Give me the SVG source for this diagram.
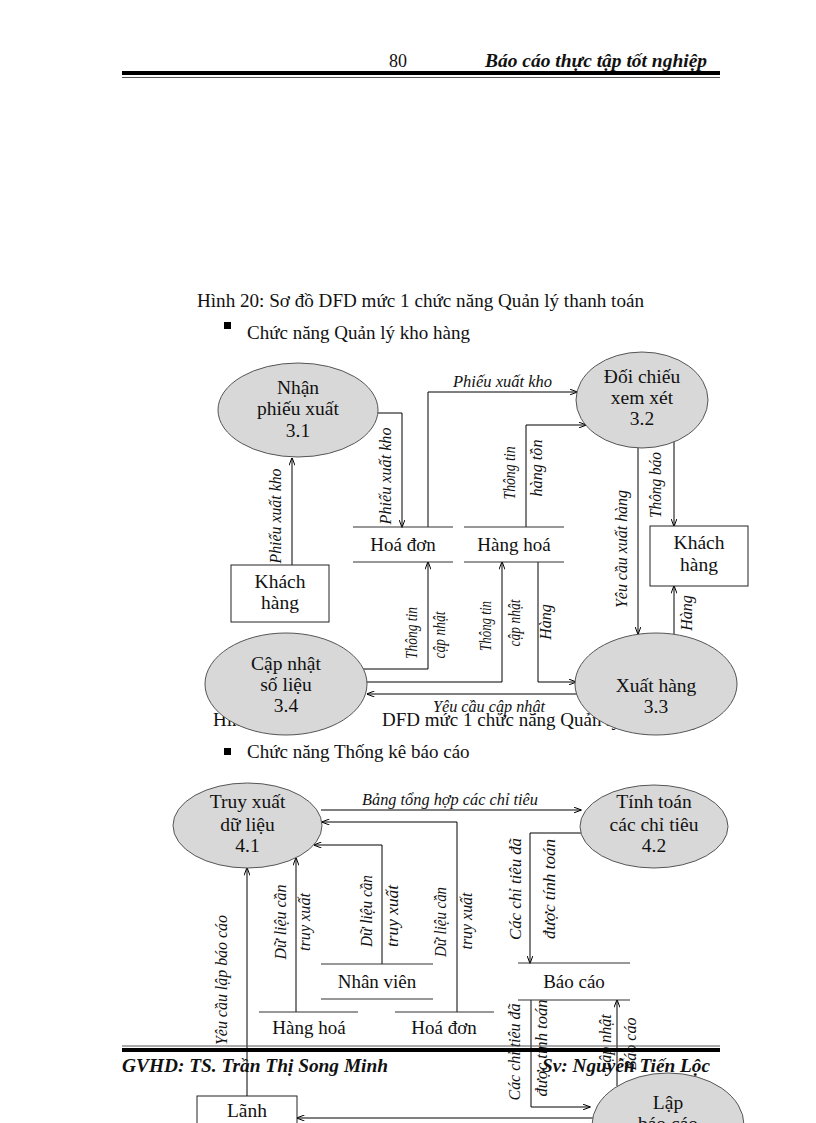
<svg xmlns="http://www.w3.org/2000/svg" width="816" height="1123" viewBox="0 0 816 1123">
<defs>
<marker id="arr" markerWidth="8" markerHeight="6" refX="7.5" refY="3" orient="auto" markerUnits="userSpaceOnUse">
<path d="M0,0 L8,3 L0,6" fill="none" stroke="#000" stroke-width="1"/>
</marker>
</defs>
<style>
text{font-family:"Liberation Serif","Times New Roman",serif;fill:#111}
.hdr{font-size:18px;font-weight:bold;font-style:italic}
.cap{font-size:19px}
.node{font-size:19.5px;text-anchor:middle}
.store{font-size:19px;text-anchor:middle}
.lbl{font-size:16px;font-style:italic}
.vl{font-size:16px;font-style:italic;text-anchor:middle}
.proc{fill:#d8d8d8;stroke:#555;stroke-width:1}
.ext{fill:#fff;stroke:#222;stroke-width:1}
.st{stroke:#333;stroke-width:1.2;fill:none}
.fl{stroke:#000;stroke-width:1;fill:none}
.fa{stroke:#000;stroke-width:1;fill:none;marker-end:url(#arr)}
</style>
<rect width="816" height="1123" fill="#fff"/>

<g id="header">
<text x="389" y="67" style="font-size:18px">80</text>
<text x="485" y="67" class="hdr" textLength="222" lengthAdjust="spacingAndGlyphs">Báo cáo thực tập tốt nghiệp</text>
<rect x="122" y="71" width="598" height="4" fill="#000"/>
<line x1="122" y1="77.5" x2="720" y2="77.5" stroke="#555" stroke-width="1"/>
</g>

<g id="captions">
<text x="197" y="307" class="cap" textLength="447" lengthAdjust="spacingAndGlyphs">Hình 20: Sơ đồ DFD mức 1 chức năng Quản lý thanh toán</text>
<rect x="224" y="322" width="7" height="7" fill="#000"/>
<text x="247" y="339" class="cap">Chức năng Quản lý kho hàng</text>
<text x="213" y="726" class="cap">Hình 21: Sơ đồ</text>
<text x="382" y="726" class="cap">DFD mức 1 chức năng Quản lý kho hàng</text>
<rect x="224" y="748" width="7" height="7" fill="#000"/>
<text x="247" y="758" class="cap">Chức năng Thống kê báo cáo</text>
</g>

<g id="connectors">
<polyline class="fa" points="378,413 402,413 402,527"/>
<polyline class="fa" points="428,527 428,392 577,392"/>
<polyline class="fa" points="526,527 526,425 586,425"/>
<line class="fa" x1="292" y1="565" x2="292" y2="458"/>
<line class="fa" x1="638" y1="448" x2="638" y2="634"/>
<line class="fa" x1="674" y1="442" x2="674" y2="526"/>
<line class="fa" x1="674" y1="634" x2="674" y2="586"/>
<polyline class="fa" points="363,669 428,669 428,562"/>
<polyline class="fa" points="366,682 502,682 502,562"/>
<polyline class="fa" points="538,562 538,682 576,682"/>
<line class="fa" x1="577" y1="694" x2="367" y2="694"/>
<line class="fa" x1="321" y1="810" x2="581" y2="810"/>
<polyline class="fa" points="457,1012 457,822 322,822"/>
<polyline class="fa" points="382,964 382,845 314,845"/>
<line class="fa" x1="296" y1="1012" x2="296" y2="858"/>
<line class="fa" x1="247" y1="1096" x2="247" y2="868"/>
<polyline class="fa" points="581,833 530,833 530,963"/>
<polyline class="fa" points="531,1000 531,1107 590,1107"/>
<line class="fa" x1="617" y1="1086" x2="617" y2="1000"/>
<line class="fa" x1="594" y1="1118" x2="297" y2="1118"/>
</g>

<g id="flow-labels">
<text x="453" y="387" class="lbl" textLength="99" lengthAdjust="spacingAndGlyphs">Phiếu xuất kho</text>
<text class="vl" transform="translate(391,476) rotate(-90)" textLength="97" lengthAdjust="spacingAndGlyphs">Phiếu xuất kho</text>
<text class="vl" transform="translate(281,516) rotate(-90)" textLength="95" lengthAdjust="spacingAndGlyphs">Phiếu xuất kho</text>
<text class="vl" transform="translate(515,473) rotate(-90)" textLength="53" lengthAdjust="spacingAndGlyphs">Thông tin</text>
<text class="vl" transform="translate(542,468) rotate(-90)" textLength="57" lengthAdjust="spacingAndGlyphs">hàng tồn</text>
<text class="vl" transform="translate(627,549) rotate(-90)" textLength="118" lengthAdjust="spacingAndGlyphs">Yêu cầu xuất hàng</text>
<text class="vl" transform="translate(661,485) rotate(-90)" textLength="66" lengthAdjust="spacingAndGlyphs">Thông báo</text>
<text class="vl" transform="translate(692,613) rotate(-90)">Hàng</text>
<text class="vl" transform="translate(417,633) rotate(-90)" textLength="52" lengthAdjust="spacingAndGlyphs">Thông tin</text>
<text class="vl" transform="translate(445,635) rotate(-90)" textLength="47" lengthAdjust="spacingAndGlyphs">cập nhật</text>
<text class="vl" transform="translate(491,626) rotate(-90)" textLength="50" lengthAdjust="spacingAndGlyphs">Thông tin</text>
<text class="vl" transform="translate(520,623) rotate(-90)" textLength="47" lengthAdjust="spacingAndGlyphs">cập nhật</text>
<text class="vl" transform="translate(551,622) rotate(-90)">Hàng</text>
<text x="433" y="712" class="lbl" textLength="112" lengthAdjust="spacingAndGlyphs">Yêu cầu cập nhật</text>

<text x="362" y="805" class="lbl" textLength="176" lengthAdjust="spacingAndGlyphs">Bảng tổng hợp các chỉ tiêu</text>
<text class="vl" transform="translate(286,922) rotate(-90)" textLength="75" lengthAdjust="spacingAndGlyphs">Dữ liệu cần</text>
<text class="vl" transform="translate(310,922) rotate(-90)" textLength="58" lengthAdjust="spacingAndGlyphs">truy xuất</text>
<text class="vl" transform="translate(372,911) rotate(-90)" textLength="72" lengthAdjust="spacingAndGlyphs">Dữ liệu cần</text>
<text class="vl" transform="translate(398,916) rotate(-90)" textLength="62" lengthAdjust="spacingAndGlyphs">truy xuất</text>
<text class="vl" transform="translate(446,922) rotate(-90)" textLength="70" lengthAdjust="spacingAndGlyphs">Dữ liệu cần</text>
<text class="vl" transform="translate(472,921) rotate(-90)" textLength="57" lengthAdjust="spacingAndGlyphs">truy xuất</text>
<text class="vl" transform="translate(227,980) rotate(-90)" textLength="130" lengthAdjust="spacingAndGlyphs">Yêu cầu lập báo cáo</text>
<text class="vl" transform="translate(521,889) rotate(-90)" textLength="102" lengthAdjust="spacingAndGlyphs">Các chỉ tiêu đã</text>
<text class="vl" transform="translate(555,889) rotate(-90)" textLength="100" lengthAdjust="spacingAndGlyphs">được tính toán</text>
<text class="vl" transform="translate(520,1052) rotate(-90)" textLength="97" lengthAdjust="spacingAndGlyphs">Các chỉ tiêu đã</text>
<text class="vl" transform="translate(547,1048) rotate(-90)" textLength="97" lengthAdjust="spacingAndGlyphs">được tính toán</text>
<text class="vl" transform="translate(611,1042) rotate(-90)">cập nhật</text>
<text class="vl" transform="translate(636,1044) rotate(-90)">Báo cáo</text>
</g>

<g id="p31"><ellipse class="proc" cx="298" cy="410" rx="80" ry="47"/>
<text class="node" x="298" y="394">Nhận</text><text class="node" x="298" y="415">phiếu xuất</text><text class="node" x="298" y="437">3.1</text></g>
<g id="p32"><ellipse class="proc" cx="642" cy="400" rx="66" ry="48"/>
<text class="node" x="642" y="383">Đối chiếu</text><text class="node" x="642" y="404">xem xét</text><text class="node" x="642" y="425">3.2</text></g>
<g id="p33"><ellipse class="proc" cx="656" cy="684" rx="81" ry="51"/>
<text class="node" x="656" y="692">Xuất hàng</text><text class="node" x="656" y="713">3.3</text></g>
<g id="p34"><ellipse class="proc" cx="286" cy="684" rx="81" ry="51"/>
<text class="node" x="286" y="670">Cập nhật</text><text class="node" x="286" y="691">số liệu</text><text class="node" x="286" y="712">3.4</text></g>
<g id="kh1"><rect class="ext" x="231" y="565" width="98" height="57"/>
<text class="node" x="280" y="588">Khách</text><text class="node" x="280" y="609">hàng</text></g>
<g id="kh2"><rect class="ext" x="650" y="526" width="98" height="60"/>
<text class="node" x="699" y="549">Khách</text><text class="node" x="699" y="571">hàng</text></g>
<g id="s-hoadon1"><line class="st" x1="353" y1="527" x2="453" y2="527"/><line class="st" x1="353" y1="562" x2="453" y2="562"/>
<text class="store" x="403" y="551">Hoá đơn</text></g>
<g id="s-hanghoa1"><line class="st" x1="464" y1="527" x2="564" y2="527"/><line class="st" x1="464" y1="562" x2="564" y2="562"/>
<text class="store" x="514" y="551">Hàng hoá</text></g>

<g id="p41"><ellipse class="proc" cx="247.5" cy="825.5" rx="74.5" ry="42.5"/>
<text class="node" x="247.5" y="808">Truy xuất</text><text class="node" x="247.5" y="831">dữ liệu</text><text class="node" x="247.5" y="852">4.1</text></g>
<g id="p42"><ellipse class="proc" cx="654" cy="826.5" rx="74" ry="41.5"/>
<text class="node" x="654" y="808">Tính toán</text><text class="node" x="654" y="831">các chỉ tiêu</text><text class="node" x="654" y="852">4.2</text></g>
<g id="s-nhanvien"><line class="st" x1="321" y1="964" x2="433" y2="964"/><line class="st" x1="321" y1="999" x2="433" y2="999"/>
<text class="store" x="377" y="988">Nhân viên</text></g>
<g id="s-baocao"><line class="st" x1="518" y1="963" x2="630" y2="963"/><line class="st" x1="518" y1="1000" x2="630" y2="1000"/>
<text class="store" x="574" y="988">Báo cáo</text></g>
<g id="s-hanghoa2"><line class="st" x1="259" y1="1012" x2="358" y2="1012"/>
<text class="store" x="309" y="1034">Hàng hoá</text></g>
<g id="s-hoadon2"><line class="st" x1="395" y1="1012" x2="494" y2="1012"/>
<text class="store" x="444" y="1034">Hoá đơn</text></g>
<g id="p-lap"><ellipse class="proc" cx="668" cy="1125" rx="76" ry="52"/>
<text class="node" x="668" y="1109">Lập</text><text class="node" x="668" y="1130">báo cáo</text></g>
<g id="lanhdao"><rect class="ext" x="197" y="1096" width="100" height="40"/>
<text class="node" x="247" y="1117">Lãnh</text></g>

<g id="footer">
<line x1="122" y1="1046" x2="720" y2="1046" stroke="#555" stroke-width="1"/>
<rect x="122" y="1048" width="598" height="4" fill="#000"/>
<text x="122" y="1072" class="hdr" textLength="266" lengthAdjust="spacingAndGlyphs">GVHD: TS. Trần Thị Song Minh</text>
<text x="542" y="1072" class="hdr" textLength="168" lengthAdjust="spacingAndGlyphs">Sv: Nguyễn Tiến Lộc</text>
</g>
</svg>
